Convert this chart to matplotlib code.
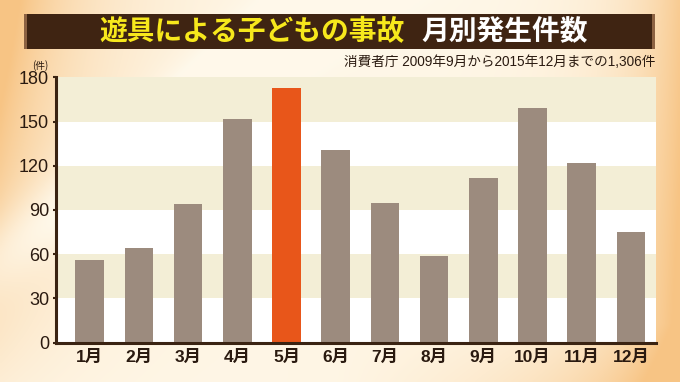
import numpy as np
import matplotlib
matplotlib.use("Agg")
import matplotlib.pyplot as plt
from matplotlib.patches import Rectangle

plt.rcParams['font.family'] = ['Noto Sans CJK JP', 'DejaVu Sans']
MIX = ['Liberation Sans', 'Noto Sans CJK JP']

# ---- data ----
months = ["1月", "2月", "3月", "4月", "5月", "6月", "7月", "8月", "9月", "10月", "11月", "12月"]
counts = [56, 64, 94, 152, 173, 131, 95, 59, 112, 159, 122, 75]
highlight = "5月"
yticks = [0, 30, 60, 90, 120, 150, 180]
title_a = "遊具による子どもの事故"
title_b = "月別発生件数"
source = "消費者庁 2009年9月から2015年12月までの1,306件"
unit = "(件)"

W, H = 680, 382
fig = plt.figure(figsize=(6.8, 3.82), dpi=100)

# ---- background ----
bg = fig.add_axes([0, 0, 1, 1])
bg.set_xlim(0, W)
bg.set_ylim(H, 0)
bg.axis("off")
u = np.linspace(0, 1, 340)[None, :]
v = np.linspace(0, 1, 191)[:, None]
orange = np.array([0.97, 0.77, 0.52])
cream = np.array([1.0, 0.975, 0.92])
wl = np.exp(-u / 0.14) * (1 - 0.8 * v) + 0.3 * np.exp(-u / 0.06) * (1 - v)
wr = np.exp(-(1 - u) / 0.09) * 0.85 + 0.3 * np.exp(-(1 - u) / 0.3) * v
wb = 0.3 * np.clip((v - 0.85) / 0.15, 0, 1) * np.clip((u - 0.5) / 0.5, 0, 1)
w = np.clip(wl + wr + wb, 0, 1)
d = (u * 680 + v * 382 * 1.3)
streak = np.exp(-((d - 330) ** 2) / (2 * 40 ** 2)) * 0.35
w = np.clip(w - streak, 0, 1)
img = cream[None, None, :] + w[..., None] * (orange - cream)[None, None, :]
bg.imshow(img, extent=[0, W, H, 0], aspect="auto", interpolation="bilinear", zorder=0)

# banner
bg.add_patch(Rectangle((24, 14), 631, 35, facecolor="#3f2412", edgecolor="none", zorder=1))
bg.add_patch(Rectangle((24, 14), 3, 35, facecolor="#8c6242", edgecolor="none", zorder=2))
bg.add_patch(Rectangle((652, 14), 3, 35, facecolor="#8c6242", edgecolor="none", zorder=2))
bg.text(405, 32, title_a, color="#f7e81c", fontsize=20, fontweight="bold",
        ha="right", va="center", zorder=3)
bg.text(421, 32, title_b, color="white", fontsize=20, fontweight="bold",
        ha="left", va="center", zorder=3)
bg.text(655, 62, source, color="#2a1a10", fontsize=9.8, ha="right", va="center",
        family=MIX, zorder=3)
bg.text(40, 66, unit, color="#2a1a10", fontsize=7, ha="center", va="center", zorder=3)

# ---- chart ----
left, right, bottom, top = 56, 656, 342.7, 77.3
ax = fig.add_axes([left / W, 1 - bottom / H, (right - left) / W, (bottom - top) / H])
ax.set_facecolor("none")
x = np.arange(len(months))
colors = ["#e8561a" if m == highlight else "#9c8b7e" for m in months]
for i in range(len(yticks) - 1):
    ax.axhspan(yticks[i], yticks[i + 1], facecolor=("#ffffff" if i % 2 == 0 else "#f3eed6"),
               edgecolor="none", zorder=0)
ax.bar(x, counts, width=0.58, color=colors, zorder=2)
ax.set_xlim(-0.685, 11.51)
ax.set_ylim(yticks[0], yticks[-1])
ax.set_yticks(yticks)
ax.set_yticklabels([str(t) for t in yticks], fontsize=13, color="#2a1a10", family=MIX)
ax.set_xticks(x)
ax.set_xticklabels(months, fontsize=12.5, fontweight="bold", color="#2a1a10", family=MIX)
ax.tick_params(axis="x", length=0, pad=5)
ax.tick_params(axis="y", length=2, width=1.5, color="#3a2312", pad=3)
for s in ["top", "right"]:
    ax.spines[s].set_visible(False)
for s in ["left", "bottom"]:
    ax.spines[s].set_color("#3a2312")
    ax.spines[s].set_linewidth(2.2)
    ax.spines[s].set_zorder(3)

fig.savefig("out.png", dpi=100)
